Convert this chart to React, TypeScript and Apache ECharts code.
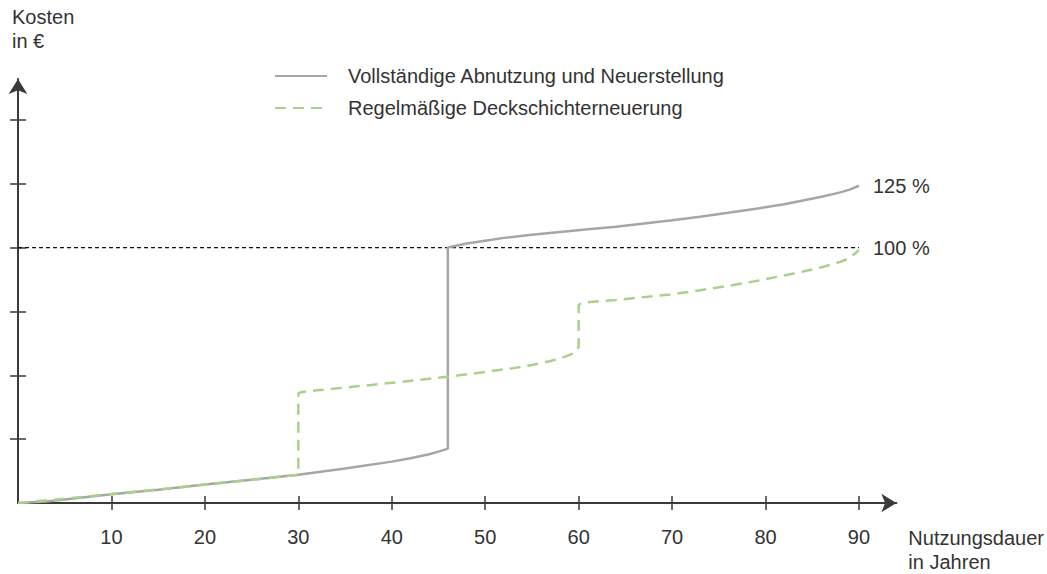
import React, { useEffect, useRef } from "react";
import * as echarts from "echarts";

const xTickValues = [10, 20, 30, 40, 50, 60, 70, 80, 90];
const yTickValues = [25, 50, 75, 100, 125, 150];

const seriesNames = ["Vollständige Abnutzung und Neuerstellung", "Regelmäßige Deckschichterneuerung"];

// Vollständige Abnutzung und Neuerstellung (grey, solid)
const grayYears = [0, 3, 5, 10, 15, 20, 25, 30, 35, 40, 42, 44, 45, 46, 46, 48, 50, 52, 55, 58, 61, 64, 67, 70, 73, 76, 79, 82, 84, 86, 88, 89, 90];
const grayCost = [0, 0.6, 1.4, 3.4, 5.2, 7.2, 9.1, 11.1, 13.5, 16.2, 17.5, 19.1, 20.1, 21.3, 100, 101.6, 102.7, 103.8, 105, 106.1, 107.2, 108.2, 109.4, 110.7, 112.1, 113.6, 115.2, 117, 118.4, 119.9, 121.6, 122.7, 124.2];

// Regelmäßige Deckschichterneuerung (green, dashed)
const greenYears = [0, 5, 10, 15, 20, 25, 30, 30, 30.3, 32, 35, 38, 41, 44, 47, 50, 53, 55, 57, 58.5, 59.5, 60, 60, 60.3, 61, 64, 67, 70, 73, 76, 79, 82, 84, 86, 88, 89, 90];
const greenCost = [0, 1.7, 3.5, 5.3, 7.2, 9.1, 11, 42.8, 43.4, 44.1, 45.2, 46.3, 47.4, 48.6, 49.9, 51.3, 52.8, 54, 55.6, 57.2, 58.7, 61, 77.6, 78.2, 78.6, 79.5, 80.6, 81.7, 83.3, 85, 86.9, 89.1, 90.6, 92.3, 94.4, 95.9, 99];

// 100 % reference line
const refYears = [0, 90];
const refCost = [100, 100];

const endLabels = ["125 %", "100 %"];

const FONT = "Liberation Sans, Arial, sans-serif";
const AXIS_COLOR = "#3a3a3a";
const TEXT_COLOR = "#333333";

function pairs(xs: number[], ys: number[]) {
  return xs.map((x, i) => [x, ys[i]]);
}

export default function App() {
  const ref = useRef<HTMLDivElement>(null);

  useEffect(() => {
    if (!ref.current) return;
    const chart = echarts.init(ref.current, undefined, { renderer: "svg" });

    const xBase = {
      type: "value",
      min: 0,
      max: 94,
      position: "bottom",
      splitLine: { show: false },
    };
    const yBase = {
      type: "value",
      min: 0,
      max: 166,
      position: "left",
      splitLine: { show: false },
    };

    chart.setOption({
      animation: false,
      backgroundColor: "#ffffff",
      textStyle: { fontFamily: FONT },
      grid: { left: 18, right: 150.5, top: 79, bottom: 63.5, containLabel: false },
      legend: {
        data: seriesNames,
        orient: "vertical",
        left: 274,
        top: 64,
        padding: 0,
        itemWidth: 52,
        itemHeight: 14,
        itemGap: 8,
        itemStyle: { opacity: 0 },
        textStyle: {
          fontSize: 20,
          color: TEXT_COLOR,
          fontFamily: FONT,
          lineHeight: 24,
          padding: [0, 0, 0, 16],
        },
      },
      xAxis: [
        {
          ...xBase,
          name: "Nutzungsdauer\nin Jahren",
          nameLocation: "end",
          nameGap: 12,
          nameTextStyle: {
            fontSize: 20,
            color: TEXT_COLOR,
            fontFamily: FONT,
            align: "left",
            verticalAlign: "top",
            lineHeight: 24,
            padding: [23, 0, 0, 0],
          },
          axisLine: {
            show: true,
            onZero: false,
            symbol: ["none", "arrow"],
            symbolSize: [14, 15],
            lineStyle: { color: AXIS_COLOR, width: 2 },
          },
          axisTick: {
            show: true,
            inside: false,
            length: 7,
            customValues: xTickValues,
            lineStyle: { color: AXIS_COLOR, width: 1.5 },
          },
          axisLabel: {
            show: true,
            customValues: xTickValues,
            margin: 24,
            fontSize: 20,
            color: TEXT_COLOR,
            fontFamily: FONT,
          },
        },
        {
          ...xBase,
          axisLine: { show: false },
          axisTick: {
            show: true,
            inside: true,
            length: 7,
            customValues: xTickValues,
            lineStyle: { color: AXIS_COLOR, width: 1.5 },
          },
          axisLabel: { show: false },
        },
      ],
      yAxis: [
        {
          ...yBase,
          name: "Kosten\nin €",
          nameLocation: "end",
          nameGap: 26,
          nameTextStyle: {
            fontSize: 20,
            color: TEXT_COLOR,
            fontFamily: FONT,
            align: "left",
            verticalAlign: "bottom",
            lineHeight: 24,
            padding: [0, 0, 0, -6],
          },
          axisLine: {
            show: true,
            onZero: false,
            symbol: ["none", "arrow"],
            symbolSize: [14, 15],
            lineStyle: { color: AXIS_COLOR, width: 2 },
          },
          axisTick: {
            show: true,
            inside: false,
            length: 8,
            customValues: yTickValues,
            lineStyle: { color: AXIS_COLOR, width: 1.5 },
          },
          axisLabel: { show: false },
        },
        {
          ...yBase,
          axisLine: { show: false },
          axisTick: {
            show: true,
            inside: true,
            length: 8,
            customValues: yTickValues,
            lineStyle: { color: AXIS_COLOR, width: 1.5 },
          },
          axisLabel: { show: false },
        },
      ],
      series: [
        {
          name: "100 % Referenz",
          type: "line",
          xAxisIndex: 0,
          yAxisIndex: 0,
          data: pairs(refYears, refCost),
          symbol: "none",
          silent: true,
          lineStyle: { color: "#111111", width: 1.2, type: [4, 3] },
          endLabel: {
            show: true,
            formatter: endLabels[1],
            distance: 14,
            fontSize: 20,
            color: TEXT_COLOR,
            fontFamily: FONT,
          },
          z: 1,
        },
        {
          name: seriesNames[0],
          type: "line",
          xAxisIndex: 0,
          yAxisIndex: 0,
          data: pairs(grayYears, grayCost),
          symbol: "none",
          lineStyle: { color: "#a6a6a6", width: 2.5 },
          itemStyle: { color: "#a6a6a6" },
          endLabel: {
            show: true,
            formatter: endLabels[0],
            distance: 14,
            fontSize: 20,
            color: TEXT_COLOR,
            fontFamily: FONT,
          },
          z: 3,
        },
        {
          name: seriesNames[1],
          type: "line",
          xAxisIndex: 0,
          yAxisIndex: 0,
          data: pairs(greenYears, greenCost),
          symbol: "none",
          lineStyle: { color: "#a9d18e", width: 2.5, type: [11, 7] },
          itemStyle: { color: "#a9d18e" },
          z: 4,
        },
      ],
    });

    const onResize = () => chart.resize();
    window.addEventListener("resize", onResize);
    return () => {
      window.removeEventListener("resize", onResize);
      chart.dispose();
    };
  }, []);

  return (
    <div
      ref={ref}
      style={{ position: "fixed", left: 0, top: 0, width: 1047, height: 574, background: "#fff" }}
    />
  );
}
